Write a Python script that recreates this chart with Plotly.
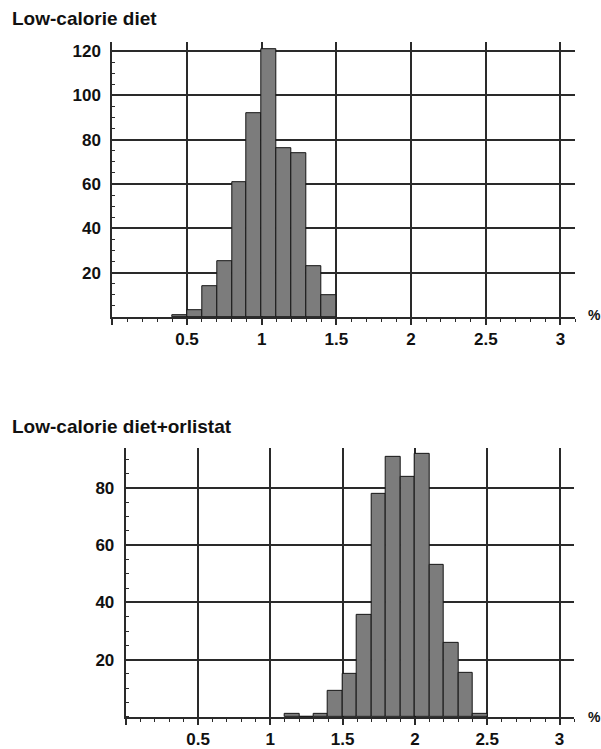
import plotly.graph_objects as go

# ---- data ----
top_title = "Low-calorie diet"
top_bin_starts = [0.4, 0.5, 0.6, 0.7, 0.8, 0.9, 1.0, 1.1, 1.2, 1.3, 1.4]
top_counts = [1, 3, 14, 25, 61, 92, 121, 76, 74, 23, 10]

bot_title = "Low-calorie diet+orlistat"
bot_bin_starts = [1.1, 1.2, 1.3, 1.4, 1.5, 1.6, 1.7, 1.8, 1.9, 2.0, 2.1, 2.2, 2.3, 2.4]
bot_counts = [1, 0, 1, 9, 15, 35.5, 78, 91, 84, 92, 53, 26, 15.5, 1]

bin_width = 0.1
x_tickvals = [0, 0.5, 1, 1.5, 2, 2.5, 3]
x_ticktext = ["", "0.5", "1", "1.5", "2", "2.5", "3"]
top_y_tickvals = [20, 40, 60, 80, 100, 120]
bot_y_tickvals = [20, 40, 60, 80]
x_unit = "%"

W, H = 601, 749
FONT = "Liberation Sans, Arial, sans-serif"
GRID = "#2a2a2a"
BAR_FILL = "#7c7c7c"
BAR_LINE = "#151515"

fig = go.Figure()
fig.add_trace(go.Bar(x=top_bin_starts, y=top_counts, width=bin_width, offset=0,
                     marker=dict(color=BAR_FILL, line=dict(color=BAR_LINE, width=1)),
                     xaxis="x", yaxis="y", showlegend=False))
fig.add_trace(go.Bar(x=bot_bin_starts, y=bot_counts, width=bin_width, offset=0,
                     marker=dict(color=BAR_FILL, line=dict(color=BAR_LINE, width=1)),
                     xaxis="x2", yaxis="y2", showlegend=False))

tickfont = dict(family=FONT, size=17, color="#111", weight="bold")

def xaxis(domain, anchor):
    return dict(domain=domain, anchor=anchor, range=[0, 3.1],
                tickvals=x_tickvals, ticktext=x_ticktext,
                ticks="outside", ticklen=6, tickwidth=2, tickcolor=GRID,
                showgrid=True, gridcolor=GRID, gridwidth=2,
                showline=True, linecolor=GRID, linewidth=2,
                zeroline=False, tickfont=tickfont, fixedrange=True,
                minor=dict(dtick=0.1, tick0=0, ticks="outside", ticklen=3,
                           tickcolor=GRID, tickwidth=1, showgrid=False))

def yaxis(domain, anchor, rng, tv):
    return dict(domain=domain, anchor=anchor, range=rng,
                tickvals=tv, ticktext=[str(v) for v in tv],
                ticks="", ticklen=0,
                showgrid=True, gridcolor=GRID, gridwidth=2,
                showline=True, linecolor=GRID, linewidth=2,
                zeroline=False, tickfont=tickfont, fixedrange=True,
                ticklabelstandoff=6,
                minor=dict(dtick=5, tick0=0, ticks="inside", ticklen=3,
                           tickcolor=GRID, tickwidth=1, showgrid=False))

fig.update_layout(
    width=W, height=H, margin=dict(l=0, r=0, t=0, b=0),
    paper_bgcolor="white", plot_bgcolor="white",
    bargap=0,
    xaxis=xaxis([112.3 / W, 575.4 / W], "y"),
    yaxis=yaxis([1 - 320.9 / H, 1 - 42.7 / H], "x", [0, 124], top_y_tickvals),
    xaxis2=xaxis([125.7 / W, 574.0 / W], "y2"),
    yaxis2=yaxis([1 - 725.6 / H, 1 - 453.3 / H], "x2", [0, 94], bot_y_tickvals),
)

titlefont = dict(family=FONT, size=19, color="#111", weight="bold")
fig.add_annotation(text=top_title, xref="paper", yref="paper", x=10 / W, y=1 - 19 / H,
                   xanchor="left", yanchor="middle", showarrow=False, font=titlefont)
fig.add_annotation(text=bot_title, xref="paper", yref="paper", x=10 / W, y=1 - 431.5 / H,
                   xanchor="left", yanchor="middle", showarrow=False, font=titlefont)

unitfont = dict(family=FONT, size=14, color="#111", weight="bold")
fig.add_annotation(text=x_unit, xref="x domain", yref="y", x=1, y=0, xshift=11, yshift=2,
                   xanchor="left", yanchor="middle", showarrow=False, font=unitfont)
fig.add_annotation(text=x_unit, xref="x2 domain", yref="y2", x=1, y=0, xshift=12, yshift=0,
                   xanchor="left", yanchor="middle", showarrow=False, font=unitfont)

fig.write_html("out.html")
